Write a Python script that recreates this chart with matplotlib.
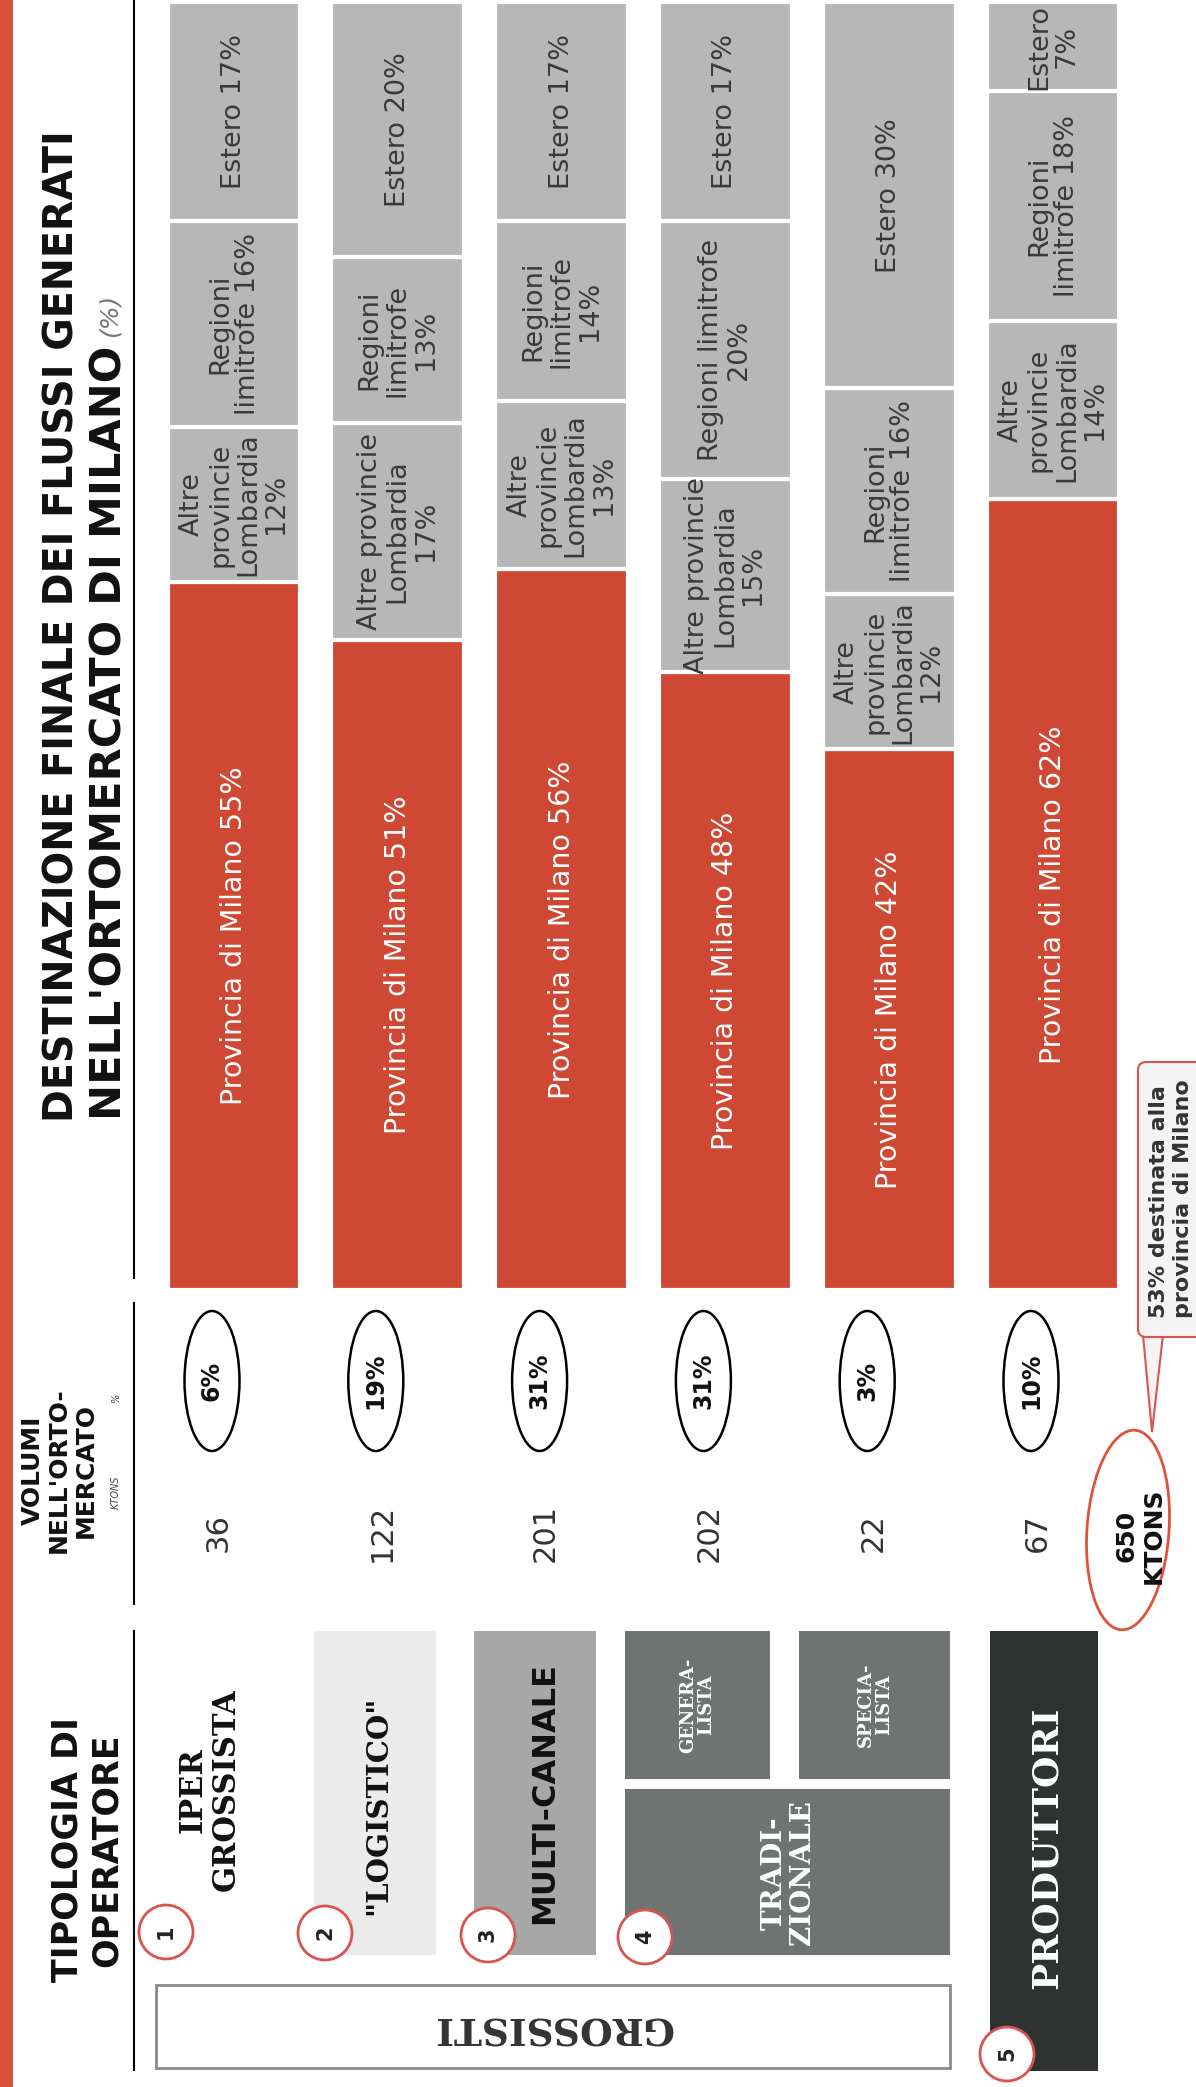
import numpy as np
import matplotlib.pyplot as plt
from matplotlib.patches import Rectangle, Ellipse, Circle, FancyBboxPatch, Polygon

# --- data -------------------------------------------------------------
volumi_kt = [36, 122, 201, 202, 22, 67]
milano = [55, 51, 56, 48, 42, 62]
altre_prov = [12, 17, 13, 15, 12, 14]
regioni = [16, 13, 14, 20, 16, 18]
estero = [17, 20, 17, 17, 30, 7]

fmt_milano = ['Provincia di Milano {}%'] * 6
fmt_altre = ['Altre\nprovincie\nLombardia\n{}%', 'Altre provincie\nLombardia\n{}%',
             'Altre\nprovincie\nLombardia\n{}%', 'Altre provincie\nLombardia\n{}%',
             'Altre\nprovincie\nLombardia\n{}%', 'Altre\nprovincie\nLombardia\n{}%']
fmt_regioni = ['Regioni\nlimitrofe {}%', 'Regioni\nlimitrofe\n{}%', 'Regioni\nlimitrofe\n{}%',
               'Regioni limitrofe\n{}%', 'Regioni\nlimitrofe {}%', 'Regioni\nlimitrofe {}%']
fmt_estero = ['Estero {}%'] * 5 + ['Estero\n{}%']

tot_kt = sum(volumi_kt)
quota = [round(v / tot_kt * 100) for v in volumi_kt]
quota_milano = round(sum(v * m for v, m in zip(volumi_kt, milano)) / tot_kt)

RED = '#cf4834'
GRAY = '#b7b7b7'
CIRC = '#d9534f'

W, H = 1196, 2087
fig = plt.figure(figsize=(W / 100, H / 100), dpi=100, facecolor='white')

# overlay axes in pixel coordinates (y down)
ax0 = fig.add_axes([0, 0, 1, 1])
ax0.set_xlim(0, W)
ax0.set_ylim(H, 0)
ax0.axis('off')

# bar axes: categories along x, percentage up
c0, pitch = 234.0, 163.8
bx0, bx1 = 150, W
by_top, by_bot = 2, 1290
ax = fig.add_axes([bx0 / W, 1 - by_bot / H, (bx1 - bx0) / W, (by_bot - by_top) / H])
ax.set_xlim((bx0 - c0) / pitch, (bx1 - c0) / pitch)
ax.set_ylim(0, 100)
ax.axis('off')
ax.patch.set_alpha(0)

x = np.arange(len(milano))
series = [milano, altre_prov, regioni, estero]
fmts = [fmt_milano, fmt_altre, fmt_regioni, fmt_estero]
colors = [RED, GRAY, GRAY, GRAY]
tcolors = ['white', '#3a3a3a', '#3a3a3a', '#3a3a3a']
tsizes = [20.5, 19.5, 19.5, 19.5]
tot = np.sum(series, axis=0)
bottom = np.zeros(len(x))
for vals, fm, col, tc, ts in zip(series, fmts, colors, tcolors, tsizes):
    share = np.array(vals) / tot * 100
    ax.bar(x, share, bottom=bottom, width=0.81, color=col, edgecolor='white', linewidth=3)
    for i in range(len(x)):
        ax.text(x[i], bottom[i] + share[i] / 2, fm[i].format(vals[i]), rotation=90,
                ha='center', va='center', multialignment='center', fontsize=ts,
                color=tc, linespacing=1.1)
    bottom += share

# --- left red strip and dividers --------------------------------------
ax0.add_patch(Rectangle((0, 0), 13, H, color='#d9513b', lw=0))
for y0, y1 in [(0, 1278), (1303, 1604), (1631, 2070)]:
    ax0.plot([134, 134], [y0, y1], color='black', lw=1.5)

# --- titles -----------------------------------------------------------
ax0.text(63, 1122, 'DESTINAZIONE FINALE DEI FLUSSI GENERATI', rotation=90,
         rotation_mode='anchor', ha='left', va='center', fontsize=28.5,
         fontweight='bold', color='#111')
t2 = ax0.text(110, 1120, "NELL'ORTOMERCATO DI MILANO", rotation=90, rotation_mode='anchor',
              ha='left', va='center', fontsize=31, fontweight='bold', color='#111')
ax0.annotate('(%)', xy=(0.5, 1.0), xycoords=t2, xytext=(0, 6), textcoords='offset points',
             rotation=90, rotation_mode='anchor', ha='left', va='center', fontsize=18,
             style='italic', color='#777')

ax0.text(59, 1470, "VOLUMI\nNELL'ORTO-\nMERCATO", rotation=90, ha='center', va='center',
         fontsize=18, fontweight='bold', linespacing=1.12, color='#111')
ax0.text(116, 1492, 'KTONS', rotation=90, ha='center', va='center', fontsize=7,
         style='italic', color='#444')
ax0.text(116, 1398, '%', rotation=90, ha='center', va='center', fontsize=7,
         style='italic', color='#444')

ax0.text(87, 1850, 'TIPOLOGIA DI\nOPERATORE', rotation=90, ha='center', va='center',
         fontsize=25, fontweight='bold', linespacing=1.2, color='#111')

# --- volumes column ---------------------------------------------------
rows_px = c0 + pitch * x - 18
for r, v, q in zip(rows_px, volumi_kt, quota):
    ax0.text(r + 2, 1533, str(v), rotation=90, ha='center', va='center', fontsize=22,
             color='#333')
    ax0.add_patch(Ellipse((r - 4, 1381), 55, 140, fill=False, ec='black', lw=1.8))
    ax0.text(r - 4, 1381, f'{q}%', rotation=90, ha='center', va='center', fontsize=17,
             fontweight='bold', color='#111')

# --- operator typology boxes ------------------------------------------
serif = 'DejaVu Serif'
ax0.text(210, 1790, 'IPER\nGROSSISTA', rotation=90, ha='center', va='center', fontsize=22,
         fontweight='bold', family=serif, color='#111', linespacing=1.1)
ax0.add_patch(Rectangle((314, 1631), 122, 324, color='#ebebeb', lw=0))
ax0.text(378, 1805, '"LOGISTICO"', rotation=90, ha='center', va='center', fontsize=21,
         fontweight='bold', family=serif, color='#111')
ax0.add_patch(Rectangle((474, 1631), 122, 324, color='#a7a7a7', lw=0))
ax0.text(545, 1793, 'MULTI-CANALE', rotation=90, ha='center', va='center', fontsize=23,
         fontweight='bold', color='#111')
ax0.add_patch(Rectangle((625, 1631), 145, 148, color='#6f7472', lw=0))
ax0.add_patch(Rectangle((799, 1631), 151, 148, color='#6f7472', lw=0))
ax0.add_patch(Rectangle((625, 1789), 325, 166, color='#6f7472', lw=0))
ax0.text(697, 1705, 'GENERA-\nLISTA', rotation=90, ha='center', va='center', fontsize=13,
         fontweight='bold', family=serif, color='white', linespacing=1.0)
ax0.text(875, 1705, 'SPECIA-\nLISTA', rotation=90, ha='center', va='center', fontsize=13,
         fontweight='bold', family=serif, color='white', linespacing=1.0)
ax0.text(788, 1873, 'TRADI-\nZIONALE', rotation=90, ha='center', va='center', fontsize=20,
         fontweight='bold', family=serif, color='white', linespacing=1.05)
ax0.add_patch(Rectangle((990, 1631), 108, 440, color='#2e3332', lw=0))
ax0.text(1047, 1848, 'PRODUTTORI', rotation=90, ha='center', va='center', fontsize=26,
         fontweight='bold', family=serif, color='white')
ax0.add_patch(Rectangle((156, 1985), 794, 83, fill=False, ec='#8a8a8a', lw=2))
ax0.text(553, 2027, 'GROSSISTI', rotation=180, ha='center', va='center', fontsize=27,
         fontweight='bold', family=serif, color='#333')

for n, (cx, cy) in enumerate([(166, 1932), (325, 1933), (488, 1935), (645, 1937), (1007, 2054)], 1):
    ax0.add_patch(Circle((cx, cy), 27, fc='white', ec=CIRC, lw=2, zorder=5))
    ax0.text(cx, cy, str(n), rotation=90, ha='center', va='center', fontsize=15,
             fontweight='bold', color='#222', zorder=6)

# --- total and callout ------------------------------------------------
ax0.add_patch(Ellipse((1128, 1530), 82, 200, angle=4, fill=False, ec='#e0533a', lw=2))
ax0.text(1140, 1536, f'{tot_kt}\nKTONS', rotation=90, ha='center', va='center', fontsize=18,
         fontweight='bold', color='#111', linespacing=1.15)
ax0.add_patch(Polygon([(1143, 1335), (1152, 1432), (1163, 1335)], closed=False,
                      fc='#f4f4f4', ec=CIRC, lw=1.5))
ax0.add_patch(FancyBboxPatch((1138, 1062), 80, 275, boxstyle='round,pad=0,rounding_size=8',
                             fc='#f4f4f4', ec=CIRC, lw=1.5))
ax0.text(1171, 1318, f'{quota_milano}% destinata alla\nprovincia di Milano', rotation=90,
         rotation_mode='anchor', ha='left', va='center', fontsize=16, fontweight='bold',
         color='#333', linespacing=1.3)

fig.savefig('out.png', dpi=100, facecolor='white')
